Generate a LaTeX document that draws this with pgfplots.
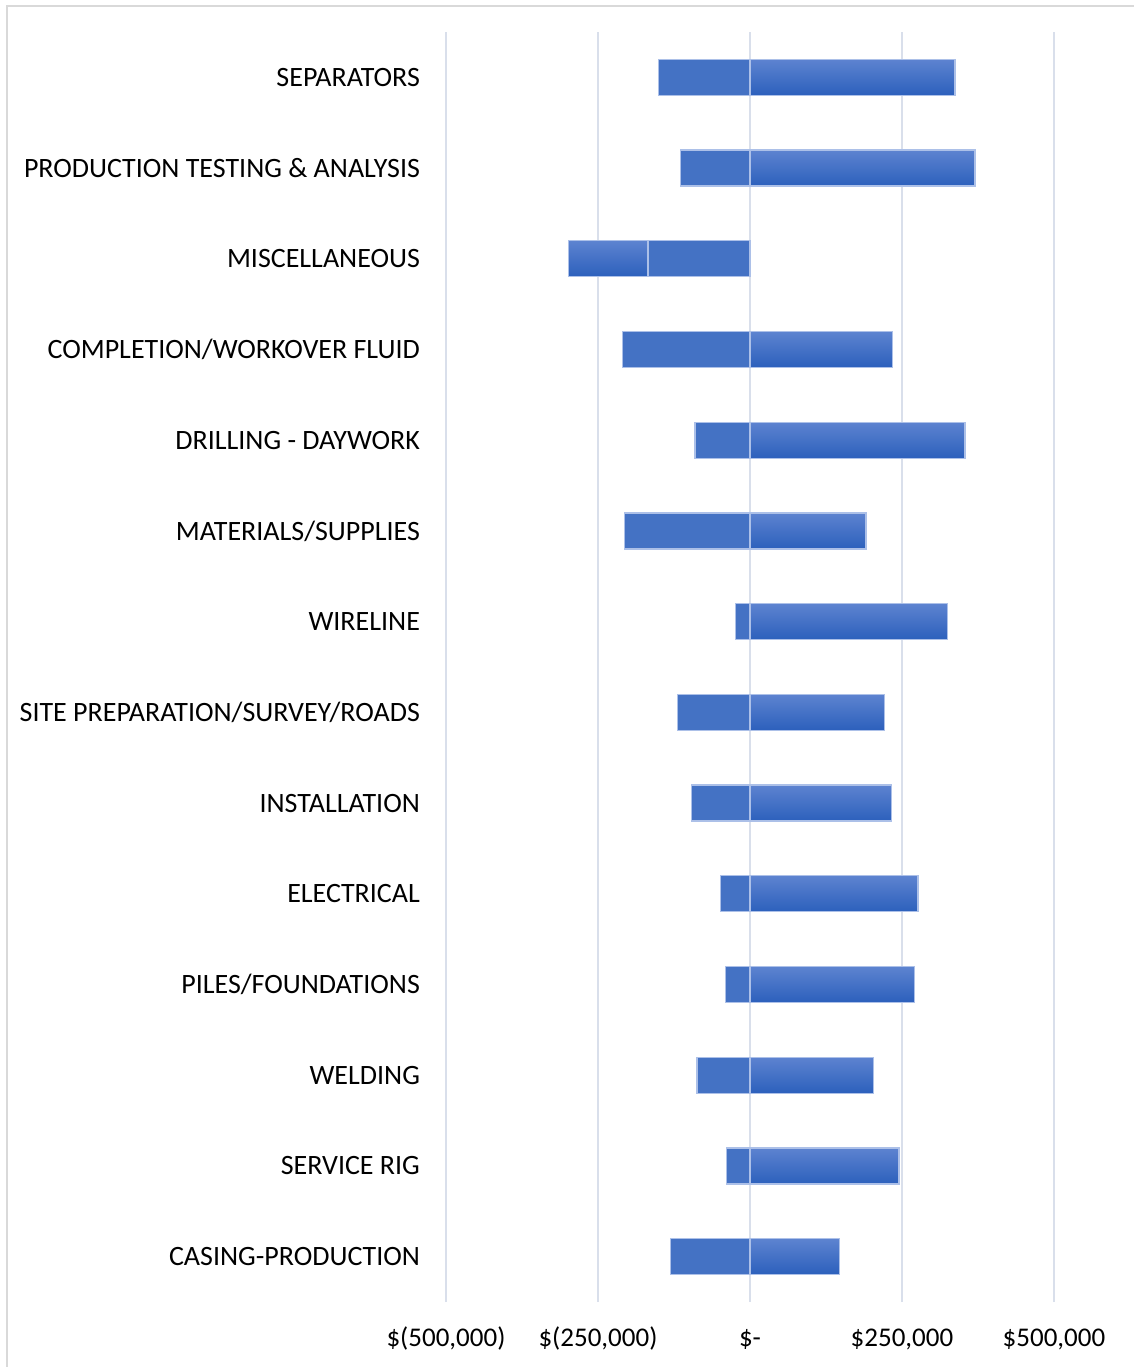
\documentclass[border=0pt]{standalone}
\usepackage{pgfplots}
\pgfplotsset{compat=1.18}
\usepackage{pgfplotstable}
\usepackage{fontspec}
\setmainfont{Carlito}
\definecolor{flatblue}{RGB}{68,114,196}
\definecolor{gtop}{RGB}{93,131,208}
\definecolor{gbot}{RGB}{44,96,188}
\definecolor{barline}{RGB}{172,192,232}
\definecolor{gridc}{RGB}{217,223,235}
\definecolor{framec}{RGB}{217,217,217}
\pgfplotstableread{
idx low
13 -150000
12 -114000
11 -167600
10 -209700
9 -90600
8 -206400
7 -23900
6 -119600
5 -96000
4 -49100
3 -40300
2 -87300
1 -38700
0 -130400
}\lowtable
\begin{document}
\begin{tikzpicture}
\draw[framec, line width=1pt] (3.5pt,0pt) -- (3.5pt,680.5pt) -- (567pt,680.5pt);
\begin{axis}[
  at={(223pt,32.5pt)}, anchor=south west,
  scale only axis, width=304pt, height=635pt,
  xmin=-500000, xmax=500000, ymin=-0.5, ymax=13.5,
  enlargelimits=false,
  axis line style={draw=none},
  tick style={draw=none},
  xtick={-500000,-250000,0,250000,500000},
  xticklabels={\$(500{,}000),\$(250{,}000),\$-,\$250{,}000,\$500{,}000},
  xmajorgrids, grid style={gridc, line width=0.75pt},
  ytick={0,...,13},
  yticklabels={CASING-PRODUCTION,SERVICE RIG,WELDING,PILES/FOUNDATIONS,ELECTRICAL,INSTALLATION,SITE PREPARATION/SURVEY/ROADS,WIRELINE,MATERIALS/SUPPLIES,DRILLING - DAYWORK,COMPLETION/WORKOVER FLUID,MISCELLANEOUS,PRODUCTION TESTING \& ANALYSIS,SEPARATORS},
  xticklabel style={font=\fontsize{13.5}{16}\selectfont, anchor=base, yshift=-22pt},
  yticklabel style={font=\fontsize{14}{16}\selectfont, xshift=-9.5pt},
  scaled x ticks=false,
  hibar/.style={xbar, bar shift=0pt, bar width=18pt, draw=barline, line width=0.6pt, top color=gtop, bottom color=gbot, forget plot},
]
\addplot[hibar] coordinates {(337200,13)};
\addplot[hibar] coordinates {(370100,12)};
\addplot[hibar] coordinates {(-298000,11)};
\addplot[hibar] coordinates {(234200,10)};
\addplot[hibar] coordinates {(353600,9)};
\addplot[hibar] coordinates {(190800,8)};
\addplot[hibar] coordinates {(324700,7)};
\addplot[hibar] coordinates {(221500,6)};
\addplot[hibar] coordinates {(232600,5)};
\addplot[hibar] coordinates {(276300,4)};
\addplot[hibar] coordinates {(270400,3)};
\addplot[hibar] coordinates {(203500,2)};
\addplot[hibar] coordinates {(245100,1)};
\addplot[hibar] coordinates {(147500,0)};
\addplot[xbar, bar shift=0pt, bar width=18pt, draw=barline, line width=0.6pt, fill=flatblue] table[x=low, y=idx] {\lowtable};
\end{axis}
\pgfresetboundingbox
\useasboundingbox (0,0) rectangle (567pt,683.5pt);
\end{tikzpicture}
\end{document}
